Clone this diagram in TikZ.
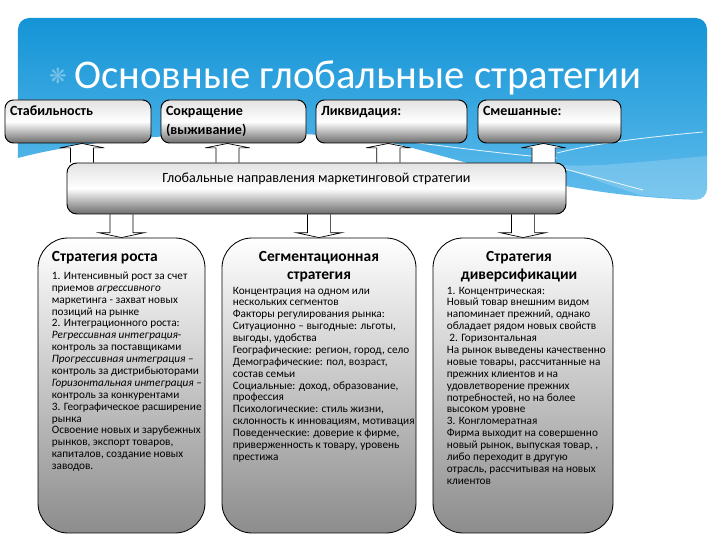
\documentclass[tikz,border=0pt]{standalone}
\usepackage{fontspec}
\setmainfont{Carlito}
\newfontfamily\symfont{DejaVu Sans}
\usetikzlibrary{positioning, calc}

\definecolor{skyblue}{RGB}{20, 148, 214}
\definecolor{skylight}{RGB}{96, 188, 236}
\definecolor{boxlight}{RGB}{226, 226, 226}
\definecolor{boxdark}{RGB}{108, 108, 108}

\pgfdeclarelayer{back}
\pgfdeclarelayer{arrowlayer}
\pgfsetlayers{back,arrowlayer,main}

\tikzset{
  topbox/.style={draw, line width=0.7pt, rounded corners=6pt, top color=boxlight, bottom color=boxdark, middle color=white, minimum height=1.075cm, inner xsep=0.125cm, align=left, font=\bfseries\fontsize{10}{13.5}\selectfont},
  oneline/.style={text height=0.25cm, text depth=0.525cm, inner ysep=0.15cm},
  midbox/.style={draw, line width=0.7pt, rounded corners=7pt, top color=boxlight, bottom color=boxdark, middle color=white, minimum width=12.475cm, text height=0.24cm, text depth=0.535cm, inner ysep=0.25cm, font=\fontsize{10}{12}\selectfont},
  bigbox/.style={draw, line width=0.6pt, rounded corners=0.75cm, top color=white, bottom color=black!45, minimum height=7.375cm},
  boxhead/.style={inner sep=0, align=center, font=\bfseries\fontsize{11}{12.8}\selectfont},
  boxbody/.style={inner sep=0, align=left, font=\fontsize{8}{8.45}\selectfont},
  blockarr/.style={draw=black, fill=white, line width=0.5pt, line join=miter}
}

% hollow block arrow: base, tip, head offset
\newcommand{\hollowarr}[3]{%
  \filldraw[blockarr] ($(#1)+(-0.29,0)$) -- ($(#2)+(-0.29,#3)$) -- ($(#2)+(-0.56,#3)$) -- (#2) -- ($(#2)+(0.56,#3)$) -- ($(#2)+(0.29,#3)$) -- ($(#1)+(0.29,0)$);}

\begin{document}
\begin{tikzpicture}
  \useasboundingbox (0,0) rectangle (18,13.5);

  % Background
  \begin{pgfonlayer}{back}
    \shade[top color=skyblue, bottom color=skylight, rounded corners=8pt] (0.45,9.55) -- (0.45,13.05) -- (17.675,13.05) -- (17.675,8.5) .. controls (14,8.6) and (11.8,9.45) .. (9.5,10.0) .. controls (6.25,10.35) and (2.5,10.1) .. (0.45,9.55);
    \fill[white, opacity=0.18] (17.675,9.6) .. controls (15.5,9.4) and (14.5,9.3) .. (13.9,9.4) .. controls (14.8,9.0) and (15.6,8.75) .. (16.1,8.6) .. controls (16.8,8.55) and (17.3,8.52) .. (17.675,8.5) -- cycle;
    \draw[white, opacity=0.85, line width=0.6pt] (10.25,9.95) .. controls (11.5,9.8) and (13,9.6) .. (13.925,9.55);
    \draw[white, opacity=0.85, line width=0.6pt] (13.925,9.675) .. controls (15,9.95) and (16.5,10.1) .. (17.575,10.2);
    \draw[white, opacity=0.85, line width=0.6pt] (13.925,9.325) .. controls (14.8,9.1) and (15.5,8.9) .. (16.075,8.75);
  \end{pgfonlayer}

  % Title
  \node[font=\fontsize{29}{34}\selectfont, text=white] (title) at (8.95,11.55) {Основные глобальные стратегии};
  \node[font=\symfont\fontsize{15}{15}\selectfont, text=white, opacity=0.35] (bullet) at (1.45,11.6) {❋};

  % Strategies
  \node[topbox, oneline, text width=3.4cm] (stab) at (1.95,10.4625) {Стабильность};
  \node[topbox, text width=3.375cm, minimum width=3.625cm] (cut) at (5.8375,10.4625) {Сокращение\\(выживание)};
  \node[topbox, oneline, text width=3.525cm] (liq) at (9.7875,10.4625) {Ликвидация:};
  \node[topbox, oneline, text width=3.325cm] (mixed) at (13.7375,10.4625) {Смешанные:};

  % Global directions
  \node[midbox] (global) at (7.9125,8.7875) {Глобальные направления маркетинговой стратегии};

  % Growth
  \node[bigbox, minimum width=4.175cm] (growth) at (3.0375,3.8625) {};
  \node[boxhead, anchor=north west] (growthhead) at ([xshift=0.35cm, yshift=-0.35cm]growth.north west) {Стратегия роста};
  \node[boxbody, anchor=north west] (growthbody) at ([xshift=0.35cm, yshift=-0.85cm]growth.north west) {
    1. Интенсивный рост за счет\\
    приемов \textit{агрессивного}\\
    маркетинга - захват новых\\
    позиций на рынке\\
    2. Интеграционного роста:\\
    \textit{Регрессивная интеграция}-\\
    контроль за поставщиками\\
    \textit{Прогрессивная интеграция} –\\
    контроль за дистрибьюторами\\
    \textit{Горизонтальная интеграция} –\\
    контроль за конкурентами\\
    3. Географическое расширение\\
    рынка\\
    Освоение новых и зарубежных\\
    рынков, экспорт товаров,\\
    капиталов, создание новых\\
    заводов.
  };

  % Segmentation
  \node[bigbox, minimum width=4.85cm] (seg) at (7.975,3.8625) {};
  \node[boxhead, anchor=north] (seghead) at ([yshift=-0.35cm]seg.north) {Сегментационная\\стратегия};
  \node[boxbody, anchor=north west] (segbody) at ([xshift=0.275cm, yshift=-1.225cm]seg.north west) {
    Концентрация на одном или\\
    нескольких сегментов\\
    Факторы регулирования рынка:\\
    Ситуационно – выгодные: льготы,\\
    выгоды, удобства\\
    Географические: регион, город, село\\
    Демографические: пол, возраст,\\
    состав семьи\\
    Социальные: доход, образование,\\
    профессия\\
    Психологические: стиль жизни,\\
    склонность к инновациям, мотивация\\
    Поведенческие: доверие к фирме,\\
    приверженность к товару, уровень\\
    престижа
  };

  % Diversification
  \node[bigbox, minimum width=4.5cm] (div) at (13.075,3.8625) {};
  \node[boxhead, anchor=north] (divhead) at ([xshift=-0.1cm, yshift=-0.35cm]div.north) {Стратегия\\диверсификации};
  \node[boxbody, anchor=north west] (divbody) at ([xshift=0.35cm, yshift=-1.225cm]div.north west) {
    1. Концентрическая:\\
    Новый товар внешним видом\\
    напоминает прежний, однако\\
    обладает рядом новых свойств\\
    \ 2. Горизонтальная\\
    На рынок выведены качественно\\
    новые товары, рассчитанные на\\
    прежних клиентов и на\\
    удовлетворение прежних\\
    потребностей, но на более\\
    высоком уровне\\
    3. Конгломератная\\
    Фирма выходит на совершенно\\
    новый рынок, выпуская товар, ,\\
    либо переходит в другую\\
    отрасль, рассчитывая на новых\\
    клиентов
  };

  % Arrows
  \coordinate (a1) at ([xshift=0.1cm]stab.south);
  \coordinate (a2) at ([xshift=-0.15cm]cut.south);
  \coordinate (a3) at ([xshift=-0.08cm]liq.south);
  \coordinate (a4) at ([xshift=-0.15cm]mixed.south);
  \begin{pgfonlayer}{arrowlayer}
    \hollowarr{a1 |- global.north}{a1}{-0.11}
    \hollowarr{a2 |- global.north}{a2}{-0.11}
    \hollowarr{a3 |- global.north}{a3}{-0.11}
    \hollowarr{a4 |- global.north}{a4}{-0.11}
    \hollowarr{growth.north |- global.south}{growth.north}{0.12}
    \hollowarr{seg.north |- global.south}{seg.north}{0.12}
    \hollowarr{div.north |- global.south}{div.north}{0.12}
  \end{pgfonlayer}
\end{tikzpicture}
\end{document}
